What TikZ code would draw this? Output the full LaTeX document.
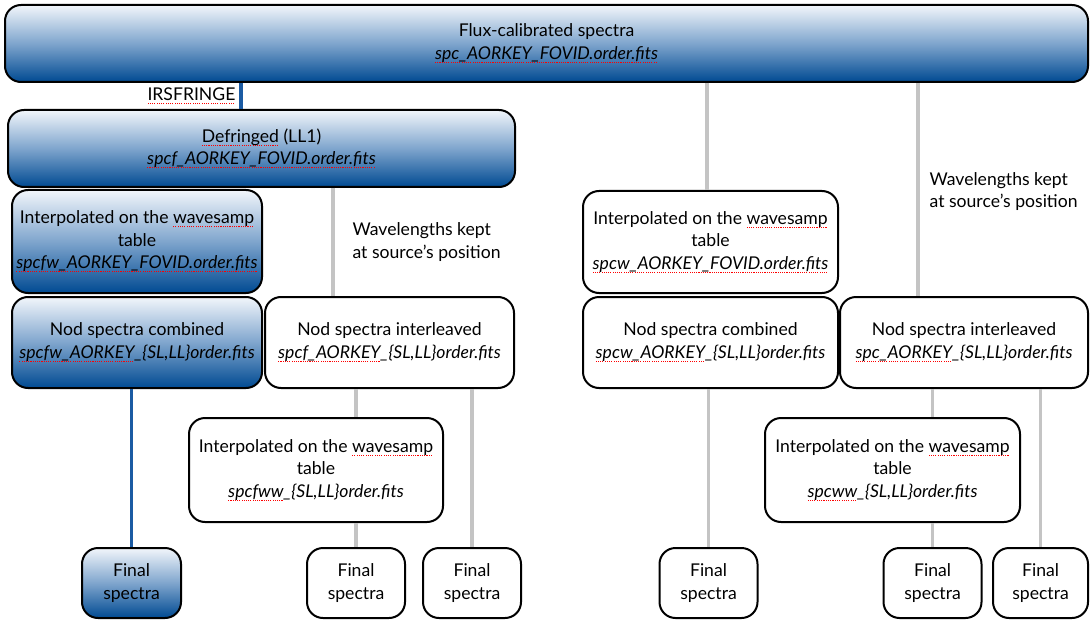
\documentclass[tikz,border=0pt]{standalone}
\usepackage{fontspec}
\setmainfont{Lato}
\usetikzlibrary{positioning, calc}

\definecolor{shadetop}{HTML}{F2F6FB}
\definecolor{shademid}{HTML}{7FA5CD}
\definecolor{shadebot}{HTML}{004A92}
\definecolor{linkgray}{HTML}{C4C4C4}
\definecolor{linkblue}{HTML}{1B5BA3}

% red dotted spell-check mark
\newcommand{\spell}[1]{\leavevmode\setbox0=\hbox{#1}%
  \rlap{\raisebox{-1.8pt}{\color{red}\hbox to \wd0{\xleaders\hbox{\rule{0.55pt}{0.55pt}\hskip0.55pt}\hfill}}}\box0\relax}

\begin{document}
\begin{tikzpicture}[
  x=0.5pt, y=-0.5pt,
  font=\fontsize{8.8}{11.2}\selectfont,
  stage/.style={draw=black, line width=1pt, rounded corners=8pt,
                fill=white, align=center, inner sep=2pt},
  bluestage/.style={stage, top color=shadetop, bottom color=shadebot,
                    middle color=shademid},
  finalbox/.style={stage, minimum width=49pt, minimum height=35pt},
  link/.style={draw=linkgray, line width=1.6pt},
  bluelink/.style={draw=linkblue, line width=1.6pt},
  note/.style={align=left, inner sep=0pt}]

\useasboundingbox (0,0) rectangle (1090,620);

% x positions of the long links
\coordinate (c1) at (241,0);
\coordinate (c2) at (707,0);
\coordinate (c3) at (918,0);
\coordinate (c4) at (333,0);

% blue branch
\node[bluestage, minimum width=541.5pt, minimum height=38.5pt] (flux) at (546.5,43.5)
  {Flux-calibrated spectra\\\textit{\spell{spc\_AORKEY\_FOVID.order.fits}}};
\node[bluestage, minimum width=253.5pt, minimum height=38.5pt] (defr) at (261.5,148.5)
  {\spell{Defringed} (LL1)\\\textit{\spell{spcf\_AORKEY\_FOVID.order.fits}}};
\node[bluestage, minimum width=125pt, minimum height=51.5pt] (interpL) at (137,241.5)
  {Interpolated on the \spell{wavesamp}\\table\\\textit{\spell{spcfw\_AORKEY\_FOVID.order.fits}}};
\node[bluestage, minimum width=125pt, minimum height=45.5pt] (combL) at (137,342.5)
  {Nod spectra combined\\\textit{\spell{spcfw\_AORKEY}\_\{SL,LL\}order.fits}};
\node[bluestage, minimum width=49.5pt, minimum height=35pt] (finL0) at (131.5,583)
  {Final\\spectra};

% white boxes, left half
\node[stage, minimum width=124.5pt, minimum height=45.5pt] (interlL) at (389.5,342.5)
  {Nod spectra interleaved\\\textit{\spell{spcf\_AORKEY}\_\{SL,LL\}order.fits}};
\node[stage, minimum width=127pt, minimum height=52pt] (interpLL) at (316,470)
  {Interpolated on the \spell{wavesamp}\\table\\\textit{\spell{spcfww}\_\{SL,LL\}order.fits}};
\node[finalbox] (finL1) at (356,583) {Final\\spectra};
\node[finalbox] (finL2) at (472,583) {Final\\spectra};

% white boxes, right half
\node[stage, minimum width=127.5pt, minimum height=51pt] (interpR) at (710.5,242)
  {Interpolated on the \spell{wavesamp}\\table\\\textit{\spell{spcw\_AORKEY\_FOVID.order.fits}}};
\node[stage, minimum width=127.5pt, minimum height=45.5pt] (combR) at (710.5,342.5)
  {Nod spectra combined\\\textit{\spell{spcw\_AORKEY}\_\{SL,LL\}order.fits}};
\node[stage, minimum width=124pt, minimum height=45.5pt] (interlR) at (964,342.5)
  {Nod spectra interleaved\\\textit{\spell{spc\_AORKEY}\_\{SL,LL\}order.fits}};
\node[stage, minimum width=127.5pt, minimum height=52pt] (interpRR) at (892.5,470)
  {Interpolated on the \spell{wavesamp}\\table\\\textit{\spell{spcww}\_\{SL,LL\}order.fits}};
\node[finalbox] (finR0) at (708.5,583) {Final\\spectra};
\node[finalbox] (finR1) at (932.5,583) {Final\\spectra};
\node[finalbox, minimum width=47.5pt] (finR2) at (1040.5,583) {Final\\spectra};

% links
\draw[bluelink] (flux.south -| c1) -- (defr.north -| c1)
  node[midway, left, inner sep=2pt] {\spell{IRSFRINGE}};
\draw[link] (defr.south -| c4) -- (interlL.north -| c4)
  node[midway, right=9pt, note] {Wavelengths kept\\at source’s position};
\draw[link] (flux.south -| c2) -- (interpR.north -| c2);
\draw[link] (flux.south -| c3) -- (interlR.north -| c3)
  node[pos=0.51, right=5pt, note] {Wavelengths kept\\at source’s position};
\draw[bluelink] (combL.south -| finL0.north) -- (finL0.north);
\draw[link] (interlL.south -| finL1.north) -- (interpLL.north -| finL1.north);
\draw[link] (interpLL.south -| finL1.north) -- (finL1.north);
\draw[link] (interlL.south -| finL2.north) -- (finL2.north);
\draw[link] (combR.south -| finR0.north) -- (finR0.north);
\draw[link] (interlR.south -| finR1.north) -- (interpRR.north -| finR1.north);
\draw[link] (interpRR.south -| finR1.north) -- (finR1.north);
\draw[link] (interlR.south -| finR2.north) -- (finR2.north);
\end{tikzpicture}
\end{document}
